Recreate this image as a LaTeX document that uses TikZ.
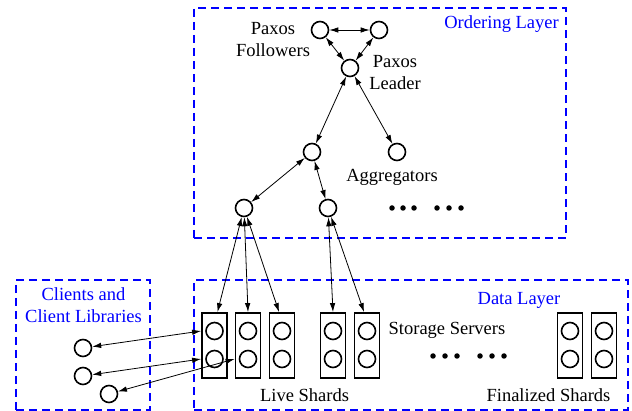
\documentclass[tikz,border=0pt]{standalone}
\usepackage{fontspec}
\setmainfont{Liberation Serif}
\usetikzlibrary{arrows.meta,calc}
\begin{document}
\begin{tikzpicture}[x=1pt,y=-1pt,
  font=\fontsize{18.5}{22}\selectfont,
  proc/.style={circle,draw,line width=1.6pt,minimum size=17pt,inner sep=0pt},
  shardbox/.style={draw,line width=1.8pt,minimum width=25pt,minimum height=65pt,inner sep=0pt},
  layer/.style={draw=blue,line width=1.8pt,dash pattern=on 8pt off 5pt,inner sep=0pt},
  lbl/.style={align=center,inner sep=0pt},
  bluelbl/.style={text=blue,inner sep=0pt,align=center},
  link/.style={{Latex[length=9pt,width=5.5pt]}-{Latex[length=9pt,width=5.5pt]},line width=0.8pt},
  dotmark/.style={circle,fill,inner sep=0pt,minimum size=5.5pt}
]
\useasboundingbox (0,0) rectangle (632,411);

% layers
\node[layer,minimum width=372pt,minimum height=230pt] (ordering) at (380,123) {};
\node[layer,minimum width=134pt,minimum height=130pt] (clients) at (83,345) {};
\node[layer,minimum width=434pt,minimum height=130pt] (data) at (411,345) {};

\node[bluelbl,anchor=east] (ordlbl) at (559,24) {Ordering Layer};
\node[bluelbl] (datalbl) at (519,300) {Data Layer};
\node[bluelbl] (clilbl) at (83.5,305.5) {Clients and\\Client Libraries};

% ordering layer processes
\node[proc] (f1) at (320,30) {};
\node[proc] (f2) at (379,30) {};
\node[proc] (ld) at (350,68) {};
\node[proc] (aM) at (312,152) {};
\node[proc] (aT) at (397,152) {};
\node[proc] (aL) at (244,208) {};
\node[proc] (aR) at (328,208) {};

\node[lbl] (folllbl) at (273,40) {Paxos\\Followers};
\node[lbl] (leadlbl) at (395,73) {Paxos\\Leader};
\node[lbl] (agglbl) at (392,177) {Aggregators};

\foreach \x [count=\i] in {392,403,414,437,449,461}
  \node[dotmark] (od\i) at (\x,208) {};

% shards
\foreach \n/\x in {s1/214.5,s2/248,s3/282,s4/333,s5/367,s6/570,s7/604}{
  \node[shardbox] (\n) at (\x,345.5) {};
  \node[proc] (\n a) at (\x,331) {};
  \node[proc] (\n b) at (\x,359) {};
}

\node[lbl] (storlbl) at (447,330) {Storage Servers};
\node[lbl] (livelbl) at (304.5,395) {Live Shards};
\node[lbl] (finlbl) at (548.5,395) {Finalized Shards};

\foreach \x [count=\i] in {433,445,457,480,492,504}
  \node[dotmark] (sd\i) at (\x,356) {};

% clients
\node[proc] (c1) at (83,348) {};
\node[proc] (c2) at (83,376) {};
\node[proc] (c3) at (109,394) {};

% connectors
\draw[link] (f1) -- (f2);
\draw[link] (f1) -- (ld);
\draw[link] (f2) -- (ld);
\draw[link] (ld) -- (aM);
\draw[link] (ld) -- (aT);
\draw[link] (aM) -- (aL);
\draw[link] (aM) -- (aR);
\draw[link] (aL) -- (s1.85);
\draw[link] (aL) -- (s2.north);
\draw[link] (aL) -- (s3.95);
\draw[link] (aR) -- (s4.north);
\draw[link] (aR) -- (s5.95);
\draw[link] (c1) -- (s1a -| s1.west);
\draw[link] (c2) -- (s1b -| s1.west);
\draw[link] (c3) -- (s2b -| s2.west);
\end{tikzpicture}
\end{document}
